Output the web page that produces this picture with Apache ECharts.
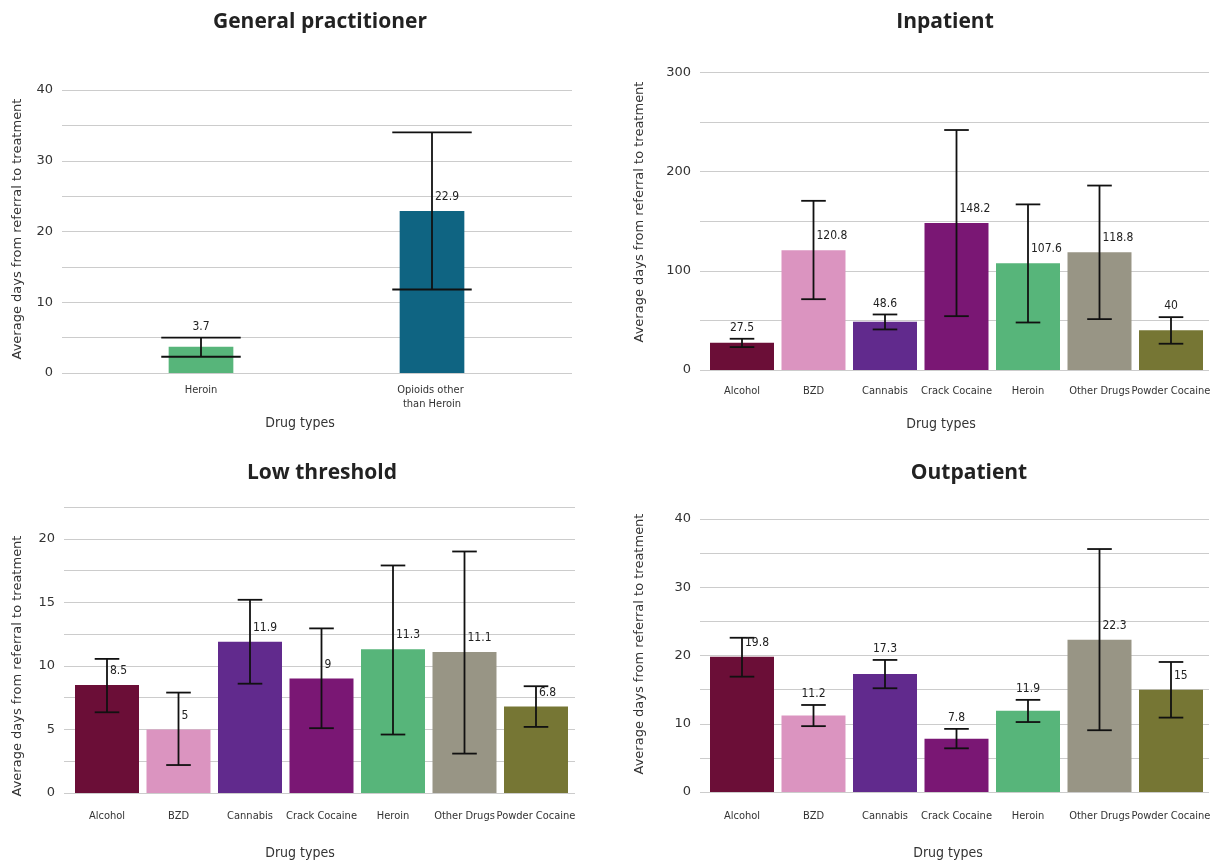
<!DOCTYPE html>
<html><head><meta charset="utf-8">
<script src="https://cdn.jsdelivr.net/npm/echarts@6/dist/echarts.min.js"></script>
<style>html,body{margin:0;padding:0;background:#fff}#c{width:1218px;height:863px}</style>
</head><body><div id="c"></div>
<script>
// ---------- data ----------
const gpCategories = ['Heroin', 'Opioids other than Heroin'];
const gpValues = [3.7, 22.9];
const gpLower = [2.3, 11.8];
const gpUpper = [5.0, 34.0];

const drugCategories = ['Alcohol', 'BZD', 'Cannabis', 'Crack Cocaine', 'Heroin', 'Other Drugs', 'Powder Cocaine'];

const inpatientValues = [27.5, 120.8, 48.6, 148.2, 107.6, 118.8, 40];
const inpatientLower = [23.1, 71.4, 40.9, 54.3, 47.9, 51.3, 26.5];
const inpatientUpper = [31.5, 170.6, 56.0, 242.0, 167.0, 186.0, 53.3];

const lowValues = [8.5, 5, 11.9, 9, 11.3, 11.1, 6.8];
const lowLower = [6.35, 2.2, 8.6, 5.1, 4.6, 3.1, 5.2];
const lowUpper = [10.55, 7.9, 15.2, 12.95, 17.9, 19.0, 8.4];

const outValues = [19.8, 11.2, 17.3, 7.8, 11.9, 22.3, 15];
const outLower = [16.9, 9.65, 15.2, 6.4, 10.25, 9.05, 10.9];
const outUpper = [22.6, 12.75, 19.35, 9.25, 13.5, 35.6, 19.05];

const panelTitles = ['General practitioner', 'Inpatient', 'Low threshold', 'Outpatient'];
const yAxisTitle = 'Average days from referral to treatment';
const xAxisTitle = 'Drug types';

const drugColors = {
  'Alcohol': '#6B0E37', 'BZD': '#DB94C0', 'Cannabis': '#612A8D', 'Crack Cocaine': '#7A1774',
  'Heroin': '#57B57A', 'Other Drugs': '#989585', 'Powder Cocaine': '#767634',
  'Opioids other than Heroin': '#0F6482'
};

// ---------- layout ----------
const W = 1218, H = 863;
const panels = [
  { cats: gpCategories, values: gpValues, lower: gpLower, upper: gpUpper, max: 40, interval: 5, labelStep: 10,
    line: {x0: 62, x1: 572, y0: 90, y1: 373}, bar: {x0: 85.5, x1: 547.5}, gap: '72%', labelMargin: 10,
    title: [320, 22], yTitle: [18, 229], xTitle: [300, 423] },
  { cats: drugCategories, values: inpatientValues, lower: inpatientLower, upper: inpatientUpper, max: 300, interval: 50, labelStep: 100,
    line: {x0: 700, x1: 1209, y0: 72.5, y1: 370}, bar: {x0: 706.25, x1: 1206.75}, gap: '10.5%', labelMargin: 14,
    title: [945, 22], yTitle: [640, 212], xTitle: [941, 424] },
  { cats: drugCategories, values: lowValues, lower: lowLower, upper: lowUpper, max: 22.5, interval: 2.5, labelStep: 5,
    line: {x0: 64, x1: 575, y0: 507, y1: 793}, bar: {x0: 71.25, x1: 571.75}, gap: '10.5%', labelMargin: 16,
    title: [322, 473], yTitle: [18, 666], xTitle: [300, 853] },
  { cats: drugCategories, values: outValues, lower: outLower, upper: outUpper, max: 40, interval: 5, labelStep: 10,
    line: {x0: 700, x1: 1209, y0: 519, y1: 792}, bar: {x0: 706.25, x1: 1206.75}, gap: '10.5%', labelMargin: 17,
    title: [969, 473], yTitle: [640, 644], xTitle: [948, 853] }
];

function renderErr(params, api) {
  const i = api.value(0);
  const lo = api.coord([i, api.value(1)]);
  const hi = api.coord([i, api.value(2)]);
  const top = api.coord([i, api.value(3)]);
  const band = api.size([1, 0])[0];
  const hw = band * 0.172;
  const x = lo[0];
  const st = {stroke: '#111', lineWidth: 1.8};
  const gap = top[1] - hi[1];
  let tx, ty, align;
  if (gap < 17) { tx = x; ty = hi[1] - 11; align = 'center'; }
  else { tx = x + 3; ty = top[1] - 14; align = 'left'; }
  return { type: 'group', children: [
    {type: 'line', shape: {x1: x, y1: lo[1], x2: x, y2: hi[1]}, style: st},
    {type: 'line', shape: {x1: x - hw, y1: hi[1], x2: x + hw, y2: hi[1]}, style: st},
    {type: 'line', shape: {x1: x - hw, y1: lo[1], x2: x + hw, y2: lo[1]}, style: st},
    {type: 'text', style: {text: String(api.value(3)), x: tx, y: ty, align: align, verticalAlign: 'middle',
      font: '12px "DejaVu Sans Condensed"', fill: '#222'}}
  ]};
}

const grid = [], xAxis = [], yAxis = [], series = [], graphic = [];
panels.forEach((p, k) => {
  const gLine = 2 * k, gBar = 2 * k + 1;
  grid.push({left: p.line.x0, right: W - p.line.x1, top: p.line.y0, bottom: H - p.line.y1, containLabel: false, outerBoundsMode: 'none'});
  grid.push({left: p.bar.x0, right: W - p.bar.x1, top: p.line.y0, bottom: H - p.line.y1, containLabel: false, outerBoundsMode: 'none'});
  xAxis.push({gridIndex: gLine, type: 'category', data: p.cats, show: false});
  xAxis.push({gridIndex: gBar, type: 'category', data: p.cats,
    axisLine: {show: false}, axisTick: {show: false}, splitLine: {show: false},
    axisLabel: {interval: 0, margin: p.labelMargin, color: '#333', fontSize: 11, fontFamily: 'DejaVu Sans Condensed',
      width: 85, overflow: 'break', lineHeight: 14}});
  yAxis.push({gridIndex: gLine, type: 'value', min: 0, max: p.max, interval: p.interval,
    axisLine: {show: false}, axisTick: {show: false},
    splitLine: {show: true, lineStyle: {color: '#cccccc', width: 1}},
    axisLabel: {margin: 9, color: '#333', fontSize: 13, fontFamily: 'DejaVu Sans',
      formatter: v => (Math.abs(v / p.labelStep - Math.round(v / p.labelStep)) < 1e-9 ? String(v) : '')}});
  yAxis.push({gridIndex: gBar, type: 'value', min: 0, max: p.max, interval: p.interval, show: false, splitLine: {show: false}});
  series.push({type: 'bar', xAxisIndex: gBar, yAxisIndex: gBar, barCategoryGap: p.gap,
    data: p.values.map((v, i) => ({value: v, itemStyle: {color: drugColors[p.cats[i]]}})),
    emphasis: {disabled: true}, z: 2});
  series.push({type: 'custom', xAxisIndex: gBar, yAxisIndex: gBar, renderItem: renderErr, clip: false, z: 5,
    data: p.cats.map((c, i) => [i, p.lower[i], p.upper[i], p.values[i]])});
  graphic.push({type: 'text', x: p.title[0], y: p.title[1], silent: true,
    style: {text: panelTitles[k], align: 'center', verticalAlign: 'middle', font: 'bold 21px "Open Sans"', fill: '#222'}});
  graphic.push({type: 'text', x: p.yTitle[0], y: p.yTitle[1], rotation: Math.PI / 2, silent: true,
    style: {text: yAxisTitle, align: 'center', verticalAlign: 'middle', font: '13px "DejaVu Sans"', fill: '#333'}});
  graphic.push({type: 'text', x: p.xTitle[0], y: p.xTitle[1], silent: true,
    style: {text: xAxisTitle, align: 'center', verticalAlign: 'middle', font: '14px "DejaVu Sans Condensed"', fill: '#333'}});
});

const chart = echarts.init(document.getElementById('c'), null, {renderer: 'canvas'});
chart.setOption({
  animation: false,
  backgroundColor: '#ffffff',
  grid, xAxis, yAxis, series, graphic
});
</script>
</body></html>
